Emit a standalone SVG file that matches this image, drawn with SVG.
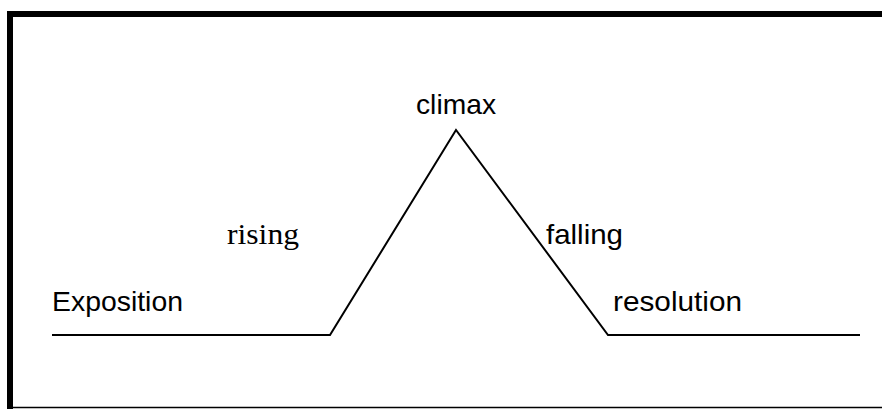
<svg xmlns="http://www.w3.org/2000/svg" width="882" height="409" viewBox="0 0 882 409">
<style>
.lbl{font-family:"Liberation Sans",Arial,sans-serif;font-size:28px;fill:#000}
.ser{font-family:"Liberation Serif","Times New Roman",serif;font-size:30px;fill:#000}
.ln{fill:none;stroke:#000;stroke-width:2}
</style>
<rect width="882" height="409" fill="#fff"/>
<g id="frame">
<rect x="7" y="11" width="875" height="6" fill="#000"/>
<rect x="7" y="11" width="6" height="398" fill="#000"/>
<line x1="7" y1="407.5" x2="882" y2="407.5" stroke="#000" stroke-width="1.5"/>
</g>
<g id="connectors">
<polyline class="ln" points="52,335 330,335 456,130 608,335 860,335"/>
</g>
<g id="exposition"><text class="lbl" x="52" y="311" textLength="131" lengthAdjust="spacingAndGlyphs">Exposition</text></g>
<g id="rising"><text class="ser" x="227" y="244" textLength="72" lengthAdjust="spacingAndGlyphs">rising</text></g>
<g id="climax"><text class="lbl" x="416" y="114" textLength="80" lengthAdjust="spacingAndGlyphs">climax</text></g>
<g id="falling"><text class="lbl" x="546" y="244" textLength="77" lengthAdjust="spacingAndGlyphs">falling</text></g>
<g id="resolution"><text class="lbl" x="613" y="311" textLength="129" lengthAdjust="spacingAndGlyphs">resolution</text></g>
</svg>
